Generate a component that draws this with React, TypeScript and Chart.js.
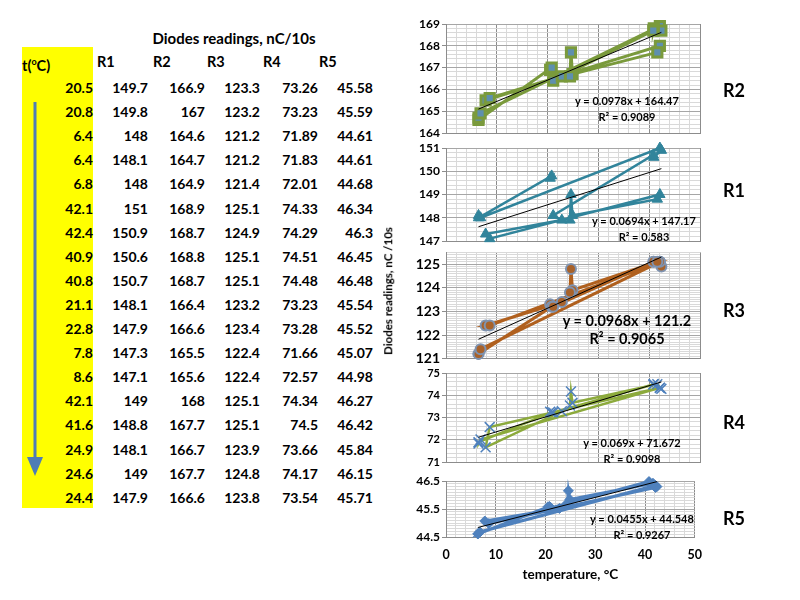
import { useEffect, useRef } from 'react';
import { Chart, registerables } from 'chart.js';

Chart.register(...registerables);

// table data, in the order the readings were taken
const temperature = [20.5, 20.8, 6.4, 6.4, 6.8, 42.1, 42.4, 40.9, 40.8, 21.1, 22.8, 7.8, 8.6, 42.1, 41.6, 24.9, 24.6, 24.4];
const r1 = [149.7, 149.8, 148, 148.1, 148, 151, 150.9, 150.6, 150.7, 148.1, 147.9, 147.3, 147.1, 149, 148.8, 148.1, 149, 147.9];
const r2 = [166.9, 167, 164.6, 164.7, 164.9, 168.9, 168.7, 168.8, 168.7, 166.4, 166.6, 165.5, 165.6, 168, 167.7, 166.7, 167.7, 166.6];
const r3 = [123.3, 123.2, 121.2, 121.2, 121.4, 125.1, 124.9, 125.1, 125.1, 123.2, 123.4, 122.4, 122.4, 125.1, 125.1, 123.9, 124.8, 123.8];
const r4 = [73.26, 73.23, 71.89, 71.83, 72.01, 74.33, 74.29, 74.51, 74.48, 73.23, 73.28, 71.66, 72.57, 74.34, 74.5, 73.66, 74.17, 73.54];
const r5 = [45.58, 45.59, 44.61, 44.61, 44.68, 46.34, 46.3, 46.45, 46.48, 45.54, 45.52, 45.07, 44.98, 46.27, 46.42, 45.84, 46.15, 45.71];

const columnNames = ['R1', 'R2', 'R3', 'R4', 'R5'];
const columns = [r1, r2, r3, r4, r5];

// linear trendlines as printed on each panel (R2, R1, R3, R4, R5)
const trendSlopes = [0.0978, 0.0694, 0.0968, 0.069, 0.0455];
const trendIntercepts = [164.47, 147.17, 121.2, 71.672, 44.548];
const trendR2 = ['0.9089', '0.583', '0.9065', '0.9098', '0.9267'];

const FONT = 'Lato, "Open Sans", sans-serif';
const CANVAS_LEFT = 390;
const CANVAS_WIDTH = 322;
const Y_AXIS_WIDTH = 56;

type PanelSpec = {
  name: string;
  values: number[];
  idx: number;
  yMin: number;
  yMax: number;
  yStep: number;
  labelOffset: number;
  top: number;
  bottom: number;
  lineColor: string;
  lineWidth: number;
  pointStyle: any;
  pointRadius: number;
  pointBg: string;
  pointBorder: string;
  pointBorderWidth: number;
  tickSize: number;
  eqX: number;
  eqY: number;
  eqSize: number;
  nameY: number;
};

const panels: PanelSpec[] = [
  {
    name: 'R2', values: r2, idx: 0, yMin: 164, yMax: 169, yStep: 0.2, labelOffset: 0,
    top: 24, bottom: 133, lineColor: '#7A9A3C', lineWidth: 3,
    pointStyle: 'rect', pointRadius: 6.5, pointBg: '#5E8FAF', pointBorder: '#7A9A3C', pointBorderWidth: 3,
    tickSize: 12, eqX: 627, eqY: 100, eqSize: 11, nameY: 90,
  },
  {
    name: 'R1', values: r1, idx: 1, yMin: 147, yMax: 151, yStep: 0.2, labelOffset: 0,
    top: 148, bottom: 241, lineColor: '#31849B', lineWidth: 2.5,
    pointStyle: 'triangle', pointRadius: 6, pointBg: '#31849B', pointBorder: '#31849B', pointBorderWidth: 1,
    tickSize: 12, eqX: 644, eqY: 220, eqSize: 11, nameY: 190,
  },
  {
    name: 'R3', values: r3, idx: 2, yMin: 121, yMax: 125.5, yStep: 0.1, labelOffset: 0,
    top: 252, bottom: 359, lineColor: '#B0601E', lineWidth: 3,
    pointStyle: 'circle', pointRadius: 5, pointBg: '#A8622A', pointBorder: '#7F93B0', pointBorderWidth: 2,
    tickSize: 14, eqX: 627, eqY: 321, eqSize: 14.5, nameY: 310,
  },
  {
    name: 'R4', values: r4, idx: 3, yMin: 71, yMax: 75, yStep: 0.2, labelOffset: 0,
    top: 373, bottom: 462, lineColor: '#8CAA3C', lineWidth: 2.5,
    pointStyle: 'crossRot', pointRadius: 7, pointBg: '#4F81BD', pointBorder: '#4F81BD', pointBorderWidth: 1.5,
    tickSize: 11, eqX: 632, eqY: 442, eqSize: 11, nameY: 422,
  },
  {
    name: 'R5', values: r5, idx: 4, yMin: 44.5, yMax: 46.5, yStep: 0.1, labelOffset: 0.5,
    top: 481, bottom: 537, lineColor: '#4F81BD', lineWidth: 3,
    pointStyle: 'rectRot', pointRadius: 5, pointBg: '#4F81BD', pointBorder: '#4F81BD', pointBorderWidth: 1,
    tickSize: 12, eqX: 642, eqY: 518, eqSize: 11, nameY: 518,
  },
];

const isWhole = (v: number) => Math.abs(v - Math.round(v)) < 1e-6;

function Panel({ p, last }: { p: PanelSpec; last: boolean }) {
  const chartRef = useRef<HTMLCanvasElement | null>(null);
  const plotH = p.bottom - p.top;
  const height = 10 + plotH + (last ? 48 : 10);

  useEffect(() => {
    if (!chartRef.current) return;
    const ctx = chartRef.current.getContext('2d');
    if (!ctx) return;

    const xMinData = Math.min(...temperature);
    const xMaxData = Math.max(...temperature);
    const slope = trendSlopes[p.idx];
    const intercept = trendIntercepts[p.idx];
    const yMajor = (v: number) => isWhole(v - p.labelOffset);

    const chart = new Chart(ctx, {
      type: 'scatter',
      data: {
        datasets: [
          {
            data: [xMinData, xMaxData].map((x) => ({ x, y: slope * x + intercept })),
            showLine: true,
            borderColor: '#000',
            borderWidth: 1,
            pointRadius: 0,
          },
          {
            data: temperature.map((t, i) => ({ x: t, y: p.values[i] })),
            showLine: true,
            borderColor: p.lineColor,
            borderWidth: p.lineWidth,
            pointStyle: p.pointStyle,
            pointRadius: p.pointRadius,
            pointBackgroundColor: p.pointBg,
            pointBorderColor: p.pointBorder,
            pointBorderWidth: p.pointBorderWidth,
            clip: false as any,
          },
        ],
      },
      options: {
        responsive: true,
        maintainAspectRatio: false,
        animation: false,
        layout: { padding: { top: 10, bottom: last ? 0 : 10, left: 0, right: 12 } },
        plugins: { legend: { display: false }, tooltip: { enabled: false } },
        scales: {
          x: {
            type: 'linear',
            min: 0,
            max: 50,
            ticks: {
              display: last,
              stepSize: 2,
              autoSkip: false,
              maxRotation: 0,
              padding: 10,
              color: '#000',
              font: { family: FONT, size: 12.5, weight: 'bold' },
              callback: (v) => (Number(v) % 10 === 0 ? String(v) : ''),
            },
            grid: {
              drawTicks: false,
              color: (c) => (c.tick && c.tick.value % 10 === 0 ? '#8C8C8C' : '#D9D9D9'),
            },
            border: { display: true, color: '#8C8C8C' },
            title: {
              display: last,
              text: 'temperature, °C',
              color: '#000',
              font: { family: FONT, size: 13.5, weight: 'bold' },
              padding: { top: 0, bottom: 2 },
            },
            afterFit: (s) => {
              s.height = last ? 48 : 0;
            },
          },
          y: {
            min: p.yMin,
            max: p.yMax,
            ticks: {
              stepSize: p.yStep,
              autoSkip: false,
              maxTicksLimit: 1000,
              padding: 2,
              color: '#000',
              font: { family: FONT, size: p.tickSize, weight: 'bold' },
              callback: (v) => (yMajor(Number(v)) ? String(Math.round(Number(v) * 10) / 10) : ''),
            },
            grid: {
              tickLength: 4,
              color: (c) => (c.tick && yMajor(c.tick.value) ? '#A6A6A6' : '#D9D9D9'),
              tickColor: (c) => (c.tick && yMajor(c.tick.value) ? '#8C8C8C' : 'rgba(0,0,0,0)'),
            },
            border: { display: true, color: '#8C8C8C' },
            afterFit: (s) => {
              s.width = Y_AXIS_WIDTH;
            },
          },
        },
      },
    });

    return () => chart.destroy();
  }, [p, last]);

  return (
    <div style={{ position: 'absolute', left: CANVAS_LEFT, top: p.top - 10, width: CANVAS_WIDTH, height }}>
      <canvas ref={chartRef}></canvas>
    </div>
  );
}

const centered = (x: number, y: number, size: number, extra: any = {}) => ({
  position: 'absolute' as const,
  left: x,
  top: y,
  transform: 'translate(-50%, -50%)',
  whiteSpace: 'nowrap' as const,
  fontFamily: FONT,
  fontWeight: 'bold' as const,
  fontSize: size,
  lineHeight: 1,
  color: '#000',
  ...extra,
});

function Table() {
  const rowY = (i: number) => 88 + i * 24.1;
  const rightEdges = [148, 205, 260, 318, 373];
  const headerLefts = [97, 153, 207, 263, 319];
  const cell = (right: number, y: number) => ({
    position: 'absolute' as const,
    left: right - 70,
    width: 70,
    top: y - 8,
    textAlign: 'right' as const,
    fontFamily: FONT,
    fontWeight: 'bold' as const,
    fontSize: 14,
    lineHeight: '16px',
    color: '#000',
  });
  return (
    <>
      <div style={{ position: 'absolute', left: 22, top: 47, width: 71, height: 461, background: '#FFFF00' }} />
      <div style={centered(234, 38, 15)}>Diodes readings, nC/10s</div>
      <div style={{ ...cell(0, 62), left: 22, width: 60, textAlign: 'left', fontSize: 14.5 }}>
        t(<sup style={{ fontSize: 9 }}>o</sup>C)
      </div>
      {columnNames.map((n, j) => (
        <div key={n} style={{ ...cell(0, 62), left: headerLefts[j], width: 40, textAlign: 'left', fontSize: 14.5 }}>
          {n}
        </div>
      ))}
      {temperature.map((t, i) => (
        <div key={'t' + i} style={cell(93, rowY(i))}>{String(t)}</div>
      ))}
      {columns.map((col, j) =>
        col.map((v, i) => (
          <div key={j + '-' + i} style={cell(rightEdges[j], rowY(i))}>{String(v)}</div>
        ))
      )}
      <svg style={{ position: 'absolute', left: 25, top: 97, width: 20, height: 385 }}>
        <line x1={10} y1={5} x2={10} y2={365} stroke="#4F7DB5" strokeWidth={3} />
        <polygon points="2,360 18,360 10,379" fill="#4F7DB5" />
      </svg>
    </>
  );
}

export default function App() {
  return (
    <div style={{ position: 'absolute', left: 0, top: 0, width: 800, height: 600, background: '#fff', overflow: 'hidden' }}>
      <Table />
      {panels.map((p, k) => (
        <Panel key={p.name} p={p} last={k === panels.length - 1} />
      ))}
      {panels.map((p) => (
        <div key={'eq' + p.name}>
          <div style={centered(p.eqX, p.eqY, p.eqSize)}>
            y = {trendSlopes[p.idx]}x + {trendIntercepts[p.idx]}
          </div>
          <div style={centered(p.eqX, p.eqY + (p.eqSize > 12 ? 18 : 16), p.eqSize)}>R² = {trendR2[p.idx]}</div>
          <div style={centered(734, p.nameY, 18)}>{p.name}</div>
        </div>
      ))}
      <div style={centered(388, 291, 11.5, { transform: 'translate(-50%, -50%) rotate(-90deg)' })}>
        Diodes readings, nC /10s
      </div>
    </div>
  );
}
